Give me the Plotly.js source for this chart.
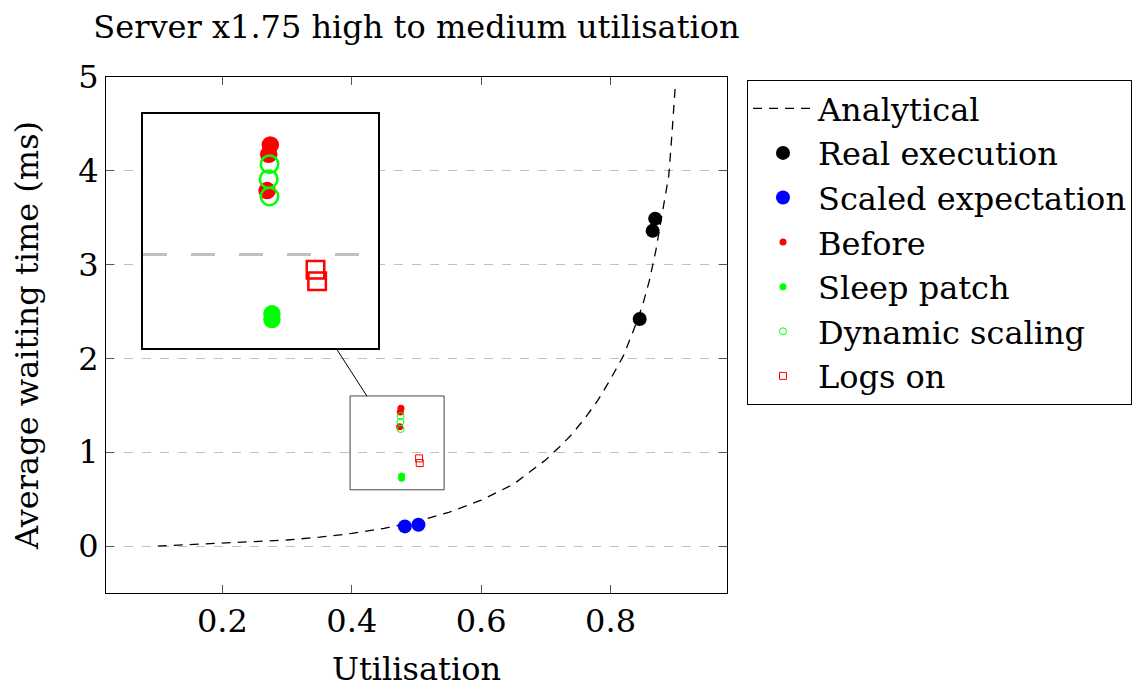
<!DOCTYPE html>
<html>
<head>
<meta charset="utf-8">
<script src="https://cdn.plot.ly/plotly-3.0.1.min.js"></script>
<style>html,body{margin:0;padding:0;background:#fff;}#chart{width:1136px;height:688px;}</style>
</head>
<body>
<div id="chart"></div>
<script>
// ---- data ----
const analyticalX = [0.1, 0.15, 0.2, 0.25, 0.3, 0.35, 0.4, 0.45, 0.5, 0.55, 0.6, 0.65, 0.7, 0.72, 0.74, 0.76, 0.78, 0.8, 0.82, 0.84, 0.85, 0.86, 0.87, 0.88, 0.89, 0.895, 0.9];
const analyticalY = [0.0, 0.015, 0.03, 0.045, 0.065, 0.095, 0.135, 0.19, 0.26, 0.36, 0.49, 0.66, 0.92, 1.05, 1.19, 1.36, 1.55, 1.78, 2.03, 2.38, 2.58, 2.83, 3.15, 3.55, 3.95, 4.4, 4.9];
const realX = [0.845, 0.865, 0.869];
const realY = [2.42, 3.36, 3.49];
const scaledX = [0.482, 0.503];
const scaledY = [0.21, 0.227];
const beforeX = [0.476, 0.475, 0.474];
const beforeY = [1.468, 1.428, 1.273];
const sleepX = [0.477, 0.477];
const sleepY = [0.747, 0.722];
const dynamicX = [0.4755, 0.475, 0.4755];
const dynamicY = [1.386, 1.322, 1.248];
const logsX = [0.504, 0.505];
const logsY = [0.935, 0.885];

// ---- layout parameters ----
const mainXRange = [0.02, 0.98];
const mainYRange = [-0.5, 5];
const spyCenter = [0.47, 1.1];     // data coords of magnified region centre
const spyHalf = [0.0727, 0.5];     // half width / height in data units
const insetDomX = [0.060, 0.438];
const insetDomY = [0.4748, 0.928];
const mag = 2.5;

const FONT = 'DejaVu Serif';
const RED = '#ff0000', GREEN = '#00ff00', BLUE = '#0000ff';

const traces = [
  {x: analyticalX, y: analyticalY, name: 'Analytical', mode: 'lines', legendgroup: 'a',
   line: {color: 'black', width: 1.3, dash: '9px,7px'}},
  {x: realX, y: realY, name: 'Real execution', mode: 'markers', legendgroup: 'b',
   marker: {color: 'black', size: 14}},
  {x: scaledX, y: scaledY, name: 'Scaled expectation', mode: 'markers', legendgroup: 'c',
   marker: {color: BLUE, size: 14}},
  {x: beforeX, y: beforeY, name: 'Before', mode: 'markers', legendgroup: 'd',
   marker: {color: RED, size: 7}},
  {x: sleepX, y: sleepY, name: 'Sleep patch', mode: 'markers', legendgroup: 'e',
   marker: {color: GREEN, size: 7}},
  {x: dynamicX, y: dynamicY, name: 'Dynamic scaling', mode: 'markers', legendgroup: 'f',
   marker: {color: GREEN, size: 7, symbol: 'circle-open', line: {width: 1}}},
  {x: logsX, y: logsY, name: 'Logs on', mode: 'markers', legendgroup: 'g',
   marker: {color: RED, size: 7, symbol: 'square-open', line: {width: 1}}},
  // inset (magnified) copies
  {x: beforeX, y: beforeY, xaxis: 'x2', yaxis: 'y2', mode: 'markers', showlegend: false,
   marker: {color: RED, size: 7 * mag}},
  {x: sleepX, y: sleepY, xaxis: 'x2', yaxis: 'y2', mode: 'markers', showlegend: false,
   marker: {color: GREEN, size: 7 * mag}},
  {x: dynamicX, y: dynamicY, xaxis: 'x2', yaxis: 'y2', mode: 'markers', showlegend: false,
   marker: {color: GREEN, size: 7 * mag, symbol: 'circle-open', line: {width: 2.5}}},
  {x: logsX, y: logsY, xaxis: 'x2', yaxis: 'y2', mode: 'markers', showlegend: false,
   marker: {color: RED, size: 7 * mag, symbol: 'square-open', line: {width: 2.5}}}
];

// connector between magnified box and source box (in paper fractions)
function toPaperX(v){ return (v - mainXRange[0]) / (mainXRange[1] - mainXRange[0]); }
function toPaperY(v){ return (v - mainYRange[0]) / (mainYRange[1] - mainYRange[0]); }
const sC = [toPaperX(spyCenter[0]), toPaperY(spyCenter[1])];
const sH = [spyHalf[0] / (mainXRange[1] - mainXRange[0]), spyHalf[1] / (mainYRange[1] - mainYRange[0])];
const bC = [(insetDomX[0] + insetDomX[1]) / 2, (insetDomY[0] + insetDomY[1]) / 2];
const bH = [(insetDomX[1] - insetDomX[0]) / 2, (insetDomY[1] - insetDomY[0]) / 2];
const d = [sC[0] - bC[0], sC[1] - bC[1]];
const tB = Math.min(bH[0] / Math.abs(d[0]), bH[1] / Math.abs(d[1]));
const tS = 1 - Math.min(sH[0] / Math.abs(d[0]), sH[1] / Math.abs(d[1]));

const axisCommon = {
  showline: true, linecolor: 'black', linewidth: 1, mirror: 'allticks',
  ticks: 'inside', ticklen: 8, tickcolor: '#555', tickwidth: 1,
  zeroline: false, tickfont: {family: FONT, size: 32, color: 'black'}
};

const layout = {
  width: 1136, height: 688,
  margin: {l: 106, r: 409, t: 77, b: 95, pad: 0, autoexpand: false},
  paper_bgcolor: 'white', plot_bgcolor: 'white',
  font: {family: FONT, size: 32, color: 'black'},
  title: {text: 'Server x1.75 high to medium utilisation', font: {family: FONT, size: 32, color: 'black'},
          x: 0.5, xref: 'paper', xanchor: 'center', y: 1 - 27 / 688, yref: 'container', yanchor: 'middle'},
  xaxis: Object.assign({}, axisCommon, {
    range: mainXRange, tick0: 0, dtick: 0.2, showgrid: false, automargin: false,
    title: {text: 'Utilisation', font: {family: FONT, size: 32}, standoff: 18}
  }),
  yaxis: Object.assign({}, axisCommon, {
    range: mainYRange, tick0: 0, dtick: 1, showgrid: true, automargin: false,
    gridcolor: '#c0c0c0', gridwidth: 1, griddash: '9px,9px',
    title: {text: 'Average waiting time (ms)', font: {family: FONT, size: 32}, standoff: 30}
  }),
  xaxis2: {domain: insetDomX, anchor: 'y2', range: [spyCenter[0] - spyHalf[0], spyCenter[0] + spyHalf[0]],
    showticklabels: false, ticks: '', showgrid: false, zeroline: false,
    showline: true, mirror: true, linecolor: 'black', linewidth: 2},
  yaxis2: {domain: insetDomY, anchor: 'x2', range: [spyCenter[1] - spyHalf[1], spyCenter[1] + spyHalf[1]],
    tickvals: [1], showticklabels: false, ticks: '', showgrid: true, zeroline: false,
    gridcolor: '#c0c0c0', gridwidth: 2.5, griddash: '24px,24px',
    showline: true, mirror: true, linecolor: 'black', linewidth: 2},
  showlegend: true,
  legend: {x: (747 - 106) / 621, y: (593 - 80) / 516, xanchor: 'left', yanchor: 'top',
    bgcolor: 'white', bordercolor: 'black', borderwidth: 1,
    font: {family: FONT, size: 32, color: 'black'}, traceorder: 'grouped', tracegroupgap: 0, itemwidth: 60},
  shapes: [
    {type: 'rect', xref: 'x', yref: 'y',
     x0: spyCenter[0] - spyHalf[0], x1: spyCenter[0] + spyHalf[0],
     y0: spyCenter[1] - spyHalf[1], y1: spyCenter[1] + spyHalf[1],
     line: {color: '#444', width: 1}},
    {type: 'line', xref: 'paper', yref: 'paper',
     x0: bC[0] + tB * d[0], y0: bC[1] + tB * d[1], x1: bC[0] + tS * d[0], y1: bC[1] + tS * d[1],
     line: {color: 'black', width: 1}}
  ]
};

Plotly.newPlot('chart', traces, layout, {staticPlot: true, displayModeBar: false});
</script>
</body>
</html>
